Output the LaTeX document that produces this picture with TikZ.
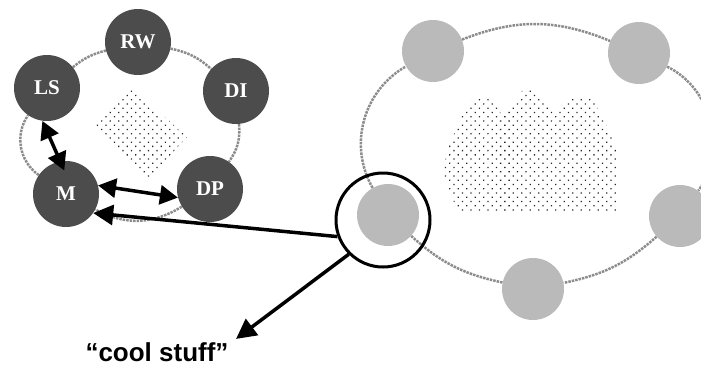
\documentclass[tikz,border=0pt]{standalone}
\usepackage{fontspec}
\setmainfont{Liberation Serif}
\newfontfamily\captionfont{Liberation Sans}
\usetikzlibrary{arrows.meta,patterns.meta,backgrounds}

\tikzdeclarepattern{
  name=sparse dots,
  type=uncolored,
  bottom left={(-1pt,-1pt)},
  top right={(5pt,5pt)},
  tile size={(6pt,6pt)},
  tile transformation={rotate=45},
  code={\fill (0pt,0pt) circle (0.9pt);}
}

\tikzstyle{vertex}=[circle,minimum size=66pt,inner sep=0pt]
\tikzstyle{dark vertex} = [vertex, fill=black!70, text=white, font=\bfseries\fontsize{21}{21}\selectfont]
\tikzstyle{pale vertex} = [vertex, minimum size=62pt, fill=black!27]
\tikzstyle{ring edge} = [draw,line width=2.5pt,densely dotted,black!45]
\tikzstyle{dotted area} = [pattern=sparse dots, pattern color=black!85]
\tikzstyle{pointer} = [draw,line width=3.5pt,-{Triangle[length=20pt,width=20pt]}]
\tikzstyle{double pointer} = [pointer,{Triangle[length=18pt,width=19pt]}-{Triangle[length=18pt,width=19pt]}]
\tikzstyle{lens} = [circle,draw,line width=3pt,minimum size=94pt,inner sep=0pt]

\begin{document}
\begin{tikzpicture}[x=1pt,y=-1pt]
    \useasboundingbox (0,0) rectangle (701,367);
    % Draw the small ring
    \foreach \pos/\name in {{(138,42)/RW},{(236,91)/DI},{(210,189)/DP},{(66,194)/M},{(47,88)/LS}}
    \node[dark vertex] (\name) at \pos {\name};
    \path[dotted area] (132,87) -- (187,137) -- (148,180) -- (93,127) -- cycle;
    % Then the large ring
    \foreach \pos/\name in {{(433,51)/TopLeft},{(639,53)/TopRight},{(680,216)/Right},
        {(533,289)/Bottom},{(388,215)/Left}}
    \node[pale vertex] (\name) at \pos {};
    \path[dotted area, rounded corners=6pt] (458,212) -- (443,175) -- (447,150) -- (463,113)
        -- (472,98) -- (493,98) -- (503,118) -- (515,104) -- (524,87) -- (535,87)
        -- (545,103) -- (558,115) -- (570,98) -- (593,98) -- (607,127) -- (617,150)
        -- (618,213) -- cycle;
    % Dotted rings behind the vertices
    \begin{scope}[on background layer]
    \foreach \source/\dest/\bend in {LS/RW/12, RW/DI/15, DI/DP/20, DP/M/30, M/LS/45,
        TopLeft/TopRight/22, TopRight/Right/50, Right/Bottom/15, Bottom/Left/15, Left/TopLeft/45}
    \path[ring edge] (\source) to[bend left=\bend] (\dest);
    \end{scope}
    % Zoom in on one vertex
    \node[lens] (lens) at (383,220) {};
    \node[font=\captionfont\bfseries\fontsize{26}{30}\selectfont] (cool) at (157,352) {“cool stuff”};
    \path[double pointer, shorten >=-10pt] (LS.262) -- (M.100);
    \path[double pointer] (M.15) -- (DP.195);
    \path[pointer] (lens.200) -- (M.-35);
    \path[pointer] (lens.225) -- ([xshift=4pt]cool.north east);
\end{tikzpicture}
\end{document}
